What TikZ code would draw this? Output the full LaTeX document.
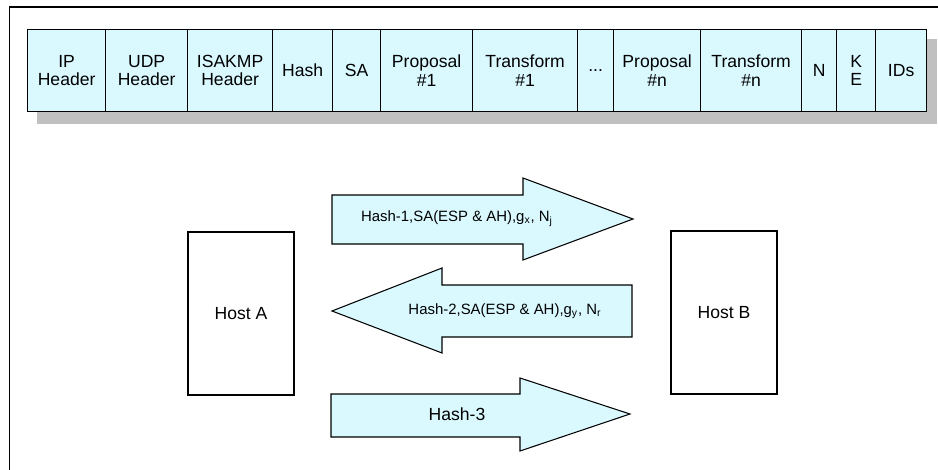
\documentclass[tikz,border=0pt]{standalone}
\usepackage{fontspec}
\setmainfont{Liberation Sans}
\usepackage{xcolor}
\usepackage{tikz}
\usetikzlibrary{calc, positioning}

\definecolor{paleblue}{RGB}{217,249,255}
\definecolor{shadowgray}{RGB}{192,192,192}
\newcommand{\celldots}{...}

\tikzset{
    cell/.style={draw, fill=paleblue, line width=0.7pt, inner sep=0pt,
        align=center, font=\fontsize{10}{10.5}\selectfont},
    host/.style={draw, line width=0.8pt, inner sep=0pt,
        minimum width=2.12cm, minimum height=3.26cm, font=\fontsize{10}{12}\selectfont},
    msgarrow/.style={draw, fill=paleblue, line width=0.6pt, line join=miter},
    msglabel/.style={inner sep=0pt, font=\fontsize{8.5}{10}\selectfont},
}

\begin{document}
\begin{tikzpicture}[x=0.02cm, y=-0.02cm]
    \useasboundingbox (0,0) rectangle (938,470);
    % 1. Frame
    \draw[line width=0.8pt] (9.5,470) -- (9.5,7) -- (938,7);

    % 2. Packet with shadow
    \fill[shadowgray] (37,39) rectangle (937,124);
    \foreach \l/\r/\t [count=\i] in {27/105/{IP\\Header}, 105/187/{UDP\\Header},
        187/272/{ISAKMP\\Header}, 272/332/Hash, 332/380/SA, 380/472/{Proposal\\\#1},
        472/577/{Transform\\\#1}, 577/613/\celldots, 613/700/{Proposal\\\#n},
        700/801/{Transform\\\#n}, 801/836/N, 836/875/{K\\E}, 875/926/IDs}
        \node[cell, anchor=north west, minimum width={(\r-\l)*0.02cm},
            minimum height=1.64cm] (c\i) at (\l,29) {\t};

    % 3. Hosts
    \node[host] (hostA) at (241,313.5) {Host A};
    \node[host] (hostB) at (724,312.5) {Host B};

    % 4. Messages
    \draw[msgarrow] (332,195) -- (523,195) -- (523,178) -- (633,219)
        -- (523,260) -- (523,244) -- (332,244) -- cycle;
    \node[msglabel] (m1) at (457,219)
        {Hash-1,SA(ESP \& AH),g\textsubscript{x}, N\textsubscript{j}};

    \draw[msgarrow] (632,285) -- (442,285) -- (442,268) -- (332,311)
        -- (442,353) -- (442,337) -- (632,337) -- cycle;
    \node[msglabel] (m2) at (505,311)
        {Hash-2,SA(ESP \& AH),g\textsubscript{y}, N\textsubscript{r}};

    \draw[msgarrow] (331,394) -- (520,394) -- (520,378) -- (630,414)
        -- (520,451) -- (520,437) -- (331,437) -- cycle;
    \node[msglabel, font=\fontsize{10}{12}\selectfont] (m3) at (457,414) {Hash-3};

\end{tikzpicture}
\end{document}
